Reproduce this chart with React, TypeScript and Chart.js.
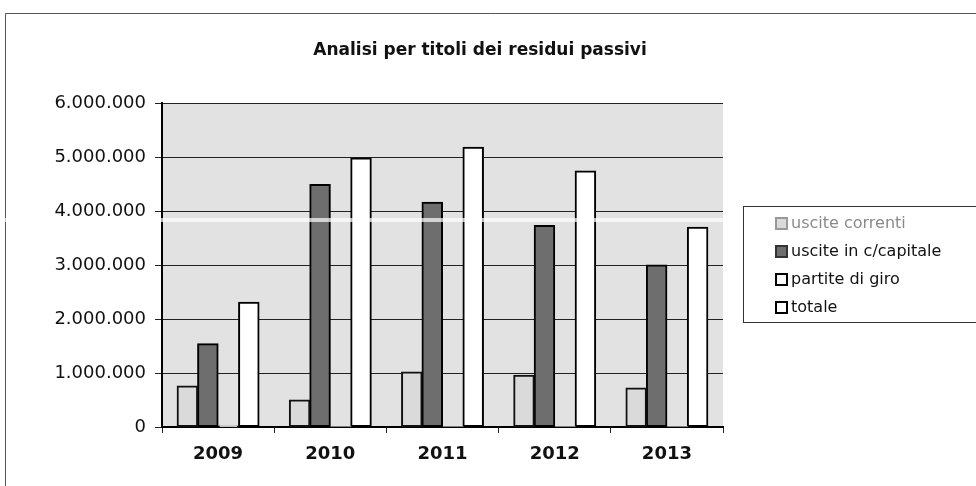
import React, { useEffect, useRef } from "react";
import { Chart, registerables } from "chart.js";

Chart.register(...registerables);

const TITLE = "Analisi per titoli dei residui passivi";
const categories = ["2009", "2010", "2011", "2012", "2013"];
const usciteCorrenti = [760000, 500000, 1020000, 960000, 720000];
const usciteCapitale = [1540000, 4490000, 4160000, 3730000, 3000000];
const partiteGiro = [20000, 0, 0, 0, 0];
const totale = [2310000, 4980000, 5180000, 4740000, 3700000];
const seriesNames = ["uscite correnti", "uscite in c/capitale", "partite di giro", "totale"];
const yMax = 6000000;
const yStep = 1000000;

const FONT = "'DejaVu Sans', Verdana, sans-serif";

const fills = ["#dadada", "#6e6e6e", "#ffffff", "#ffffff"];
const borders = ["#111", "#000", "#000", "#000"];
const legendText = ["#8a8a8a", "#111", "#111", "#111"];
const legendMarkerBorder = ["#999", "#333", "#000", "#000"];

function fmt(v: number): string {
  return String(Math.round(v)).replace(/\B(?=(\d{3})+(?!\d))/g, ".");
}

const decorPlugin = {
  id: "decor",
  beforeDraw(chart: any) {
    const { ctx, chartArea } = chart;
    ctx.save();
    ctx.fillStyle = "#ffffff";
    ctx.fillRect(0, 0, chart.width, chart.height);
    ctx.fillStyle = "#e2e2e2";
    ctx.fillRect(chartArea.left, chartArea.top, chartArea.right - chartArea.left, chartArea.bottom - chartArea.top);
    ctx.restore();
  },
  afterDraw(chart: any) {
    const { ctx } = chart;
    ctx.save();
    // outer frame
    ctx.strokeStyle = "#555";
    ctx.lineWidth = 1;
    ctx.beginPath();
    ctx.moveTo(5.5, 486);
    ctx.lineTo(5.5, 13.5);
    ctx.lineTo(976, 13.5);
    ctx.stroke();

    // title
    ctx.fillStyle = "#111";
    ctx.font = `bold 17px ${FONT}`;
    ctx.textAlign = "center";
    ctx.textBaseline = "middle";
    ctx.fillText(TITLE, 480, 51);

    // legend
    const lx = 743.5, ly = 206.5, lw = 260, lh = 116;
    ctx.strokeStyle = "#333";
    ctx.lineWidth = 1;
    ctx.fillStyle = "#ffffff";
    ctx.fillRect(lx, ly, lw, lh);
    ctx.strokeRect(lx, ly, lw, lh);
    ctx.font = `16px ${FONT}`;
    ctx.textAlign = "left";
    ctx.textBaseline = "middle";
    chart.data.datasets.forEach((ds: any, i: number) => {
      const cy = 223 + i * 28;
      ctx.fillStyle = fills[i];
      ctx.fillRect(776, cy - 5, 11, 11);
      ctx.strokeStyle = legendMarkerBorder[i];
      ctx.lineWidth = 2;
      ctx.strokeRect(776, cy - 5, 11, 11);
      ctx.fillStyle = legendText[i];
      ctx.fillText(ds.label, 791, cy + 1);
    });

    // faint scan band
    ctx.fillStyle = "rgba(255,255,255,0.7)";
    ctx.fillRect(0, 218, 742, 4);
    ctx.restore();
  },
};

export default function App() {
  const ref = useRef<HTMLCanvasElement | null>(null);
  useEffect(() => {
    document.body.style.margin = "0";
    const canvas = ref.current;
    if (!canvas) return;
    const data = [usciteCorrenti, usciteCapitale, partiteGiro, totale];
    const chart = new Chart(canvas, {
      type: "bar",
      data: {
        labels: categories,
        datasets: seriesNames.map((name, i) => ({
          label: name,
          data: data[i],
          backgroundColor: fills[i],
          borderColor: borders[i],
          borderWidth: (c: any) => (c.raw === 0 ? 0 : 2),
          borderSkipped: false,
          inflateAmount: 0.5,
          categoryPercentage: 0.73,
          barPercentage: 1.0,
        })),
      },
      options: {
        responsive: false,
        animation: false,
        devicePixelRatio: 1,
        layout: { padding: { left: 0, top: 103, right: 253, bottom: 0 } },
        plugins: {
          legend: { display: false },
          title: { display: false },
          tooltip: { enabled: false },
        },
        scales: {
          x: {
            grid: { drawOnChartArea: false, drawTicks: true, tickLength: 6, color: "#222", offset: true },
            border: { color: "#000", width: 2 },
            ticks: { font: { family: FONT, size: 18, weight: "bold" }, color: "#111", padding: 11 },
            afterFit: (s: any) => { s.height = 59; },
          },
          y: {
            min: 0,
            max: yMax,
            ticks: {
              stepSize: yStep,
              font: { family: FONT, size: 18 },
              color: "#111",
              padding: 9,
              callback: (v: any) => fmt(Number(v)),
            },
            grid: { color: "#222", lineWidth: 1, tickLength: 7 },
            border: { color: "#000", width: 2 },
            afterFit: (s: any) => { s.width = 162; },
          },
        },
      },
      plugins: [decorPlugin],
    } as any);
    return () => chart.destroy();
  }, []);
  return (
    <div style={{ width: 976, height: 486, position: "relative" }}>
      <canvas ref={ref} width={976} height={486} style={{ display: "block" }} />
    </div>
  );
}
